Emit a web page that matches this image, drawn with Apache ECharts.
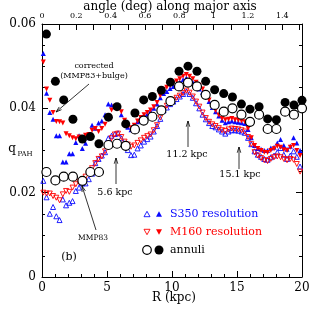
<!DOCTYPE html>
<html><head><meta charset="utf-8">
<script src="https://cdn.jsdelivr.net/npm/echarts@6/dist/echarts.min.js"></script>
<style>html,body{margin:0;padding:0;background:#fff}#c{width:314px;height:315px}</style>
</head><body><div id="c"></div>
<script>
// Radius grid (kpc) for the resolution-matched triangle series
const R_TRI = [0.1,0.35,0.6,0.85,1.1,1.35,1.6,1.85,2.1,2.35,
2.6,2.85,3.1,3.35,3.6,3.85,4.1,4.35,4.6,4.85,
5.1,5.35,5.6,5.85,6.1,6.35,6.6,6.85,7.1,7.35,
7.6,7.85,8.1,8.35,8.6,8.85,9.1,9.35,9.6,9.85,
10.1,10.35,10.6,10.85,11.1,11.35,11.6,11.85,12.1,12.35,
12.6,12.85,13.1,13.35,13.6,13.85,14.1,14.35,14.6,14.85,
15.1,15.35,15.6,15.85,16.1,16.35,16.6,16.85,17.1,17.35,
17.6,17.85,18.1,18.35,18.6,18.85,19.1,19.35,19.6,19.85];
// S350 resolution, corrected (MMP83+bulge) - filled blue triangles
const S350_CORR = [.0530,.0436,.0390,.0374,.0335,.0335,.0273,.0273,.0292,.0292,
.0319,.0335,.0305,.0317,.0330,.0360,.0353,.0365,.0370,.0385,
.0410,.0408,.0404,.0404,.0385,.0370,.0355,.0349,.0355,.0368,
.0378,.0384,.0386,.0393,.0400,.0410,.0425,.0435,.0440,.0447,
.0452,.0458,.0462,.0468,.0472,.0468,.0462,.0454,.0446,.0438,
.0428,.0416,.0402,.0392,.0382,.0372,.0366,.0368,.0370,.0368,
.0367,.0366,.0364,.0350,.0330,.0312,.0305,.0303,.0300,.0300,
.0306,.0308,.0318,.0326,.0312,.0303,.0310,.0330,.0318,.0300];
// M160 resolution, corrected - filled red down-triangles
const M160_CORR = [.0510,.0446,.0419,.0390,.0369,.0368,.0365,.0340,.0335,.0330,
.0328,.0332,.0330,.0336,.0338,.0348,.0352,.0345,.0352,.0362,
.0375,.0396,.0404,.0402,.0392,.0372,.0358,.0354,.0360,.0370,
.0378,.0385,.0390,.0396,.0404,.0414,.0430,.0445,.0450,.0455,
.0460,.0465,.0470,.0476,.0480,.0476,.0470,.0462,.0455,.0446,
.0434,.0420,.0405,.0395,.0384,.0376,.0373,.0374,.0376,.0373,
.0372,.0370,.0368,.0352,.0330,.0312,.0305,.0300,.0296,.0295,
.0300,.0304,.0310,.0308,.0302,.0300,.0308,.0312,.0300,.0288];
// S350 resolution, MMP83 - open blue triangles
const S350_MMP = [.0228,.0189,.0150,.0166,.0144,.0135,.0184,.0170,.0176,.0180,
.0204,.0212,.0222,.0222,.0232,.0245,.0270,.0280,.0288,.0296,
.0329,.0335,.0339,.0341,.0329,.0315,.0301,.0289,.0290,.0305,
.0312,.0321,.0327,.0333,.0345,.0358,.0375,.0395,.0402,.0410,
.0416,.0422,.0428,.0434,.0440,.0434,.0425,.0412,.0400,.0385,
.0374,.0365,.0358,.0355,.0350,.0345,.0340,.0345,.0348,.0348,
.0347,.0345,.0342,.0330,.0315,.0298,.0290,.0285,.0280,.0278,
.0284,.0288,.0296,.0306,.0290,.0280,.0288,.0298,.0285,.0262];
// M160 resolution, MMP83 - open red down-triangles
const M160_MMP = [.0200,.0198,.0198,.0192,.0188,.0182,.0196,.0204,.0202,.0212,
.0220,.0226,.0230,.0238,.0246,.0258,.0270,.0280,.0286,.0298,
.0315,.0329,.0338,.0340,.0332,.0321,.0314,.0309,.0312,.0318,
.0324,.0330,.0334,.0338,.0348,.0360,.0378,.0398,.0406,.0414,
.0420,.0425,.0430,.0436,.0442,.0437,.0428,.0416,.0404,.0390,
.0377,.0368,.0362,.0358,.0353,.0348,.0346,.0350,.0352,.0351,
.0350,.0348,.0345,.0332,.0315,.0296,.0288,.0282,.0277,.0275,
.0280,.0284,.0286,.0284,.0280,.0277,.0280,.0278,.0268,.0250];
// Annuli
const ANN_R = [0.34,1.03,1.67,2.38,3.11,3.72,4.38,5.11,5.77,6.44,
7.15,7.82,8.49,9.18,9.88,10.54,11.23,11.92,12.59,13.28,
13.98,14.65,15.34,16.0,16.7,17.36,18.03,18.7,19.38,20.0];
const ANN_CORR = [.0576,.0464,.0420,.0374,.0327,.0333,.0316,.0379,.0404,.0363,
.0389,.0420,.0428,.0443,.0462,.0488,.0500,.0488,.0464,.0444,
.0435,.0427,.0410,.0398,.0404,.0375,.0373,.0414,.0408,.0419];
const ANN_MMP = [.0249,.0229,.0238,.0238,.0228,.0249,.0249,.0313,.0316,.0311,
.0350,.0371,.0380,.0395,.0417,.0452,.0461,.0452,.0432,.0408,
.0392,.0400,.0385,.0368,.0385,.0351,.0351,.0392,.0385,.0400];
// Axis definitions
const X_MIN = 0, X_MAX = 20, X_STEP = 5;
const Y_MIN = 0, Y_MAX = 0.06, Y_STEP = 0.02;
const ANG_MAX = 1.515, ANG_STEP = 0.1;

const BLUE = '#0a0aff', RED = '#ff0000', BLACK = '#000';
const FONT = 'DejaVu Serif';
const pair = (xs, ys) => xs.map((x, i) => [x, ys[i]]);

const chart = echarts.init(document.getElementById('c'), null, {renderer: 'canvas'});
const tickCommon = {inside: true, length: 6, lineStyle: {color: BLACK, width: 1}};
const minorCommon = {show: true, length: 3, lineStyle: {color: BLACK, width: 1}};
const lineCommon = {show: true, onZero: false, lineStyle: {color: BLACK, width: 1}};

function triStyle(color, open) {
  return open ? {color: 'rgba(0,0,0,0)', borderColor: color, borderWidth: 0.9, opacity: 1}
              : {color: color, opacity: 1};
}

const option = {
  animation: false,
  backgroundColor: '#fff',
  grid: {left: 42, right: 12, top: 24, bottom: 38},
  xAxis: [
    {type: 'value', min: X_MIN, max: X_MAX, interval: X_STEP, position: 'bottom',
     axisLine: lineCommon, axisTick: tickCommon, minorTick: Object.assign({splitNumber: 5}, minorCommon),
     splitLine: {show: false},
     axisLabel: {color: BLACK, fontFamily: FONT, fontSize: 12, margin: 5}},
    {type: 'value', min: 0, max: ANG_MAX, interval: ANG_STEP, position: 'top',
     axisLine: lineCommon, axisTick: tickCommon, splitLine: {show: false},
     axisLabel: {color: BLACK, fontFamily: FONT, fontSize: 8, margin: 4, showMaxLabel: false,
       formatter: v => { const t = Math.round(v * 10); return t % 2 ? '' : String(t / 10); }}}
  ],
  yAxis: [
    {type: 'value', min: Y_MIN, max: Y_MAX, interval: Y_STEP, position: 'left',
     axisLine: lineCommon, axisTick: tickCommon, minorTick: Object.assign({splitNumber: 4}, minorCommon),
     splitLine: {show: false},
     axisLabel: {color: BLACK, fontFamily: FONT, fontSize: 12, margin: 6}},
    {type: 'value', min: Y_MIN, max: Y_MAX, interval: Y_STEP, position: 'right',
     axisLine: lineCommon, axisTick: tickCommon, minorTick: Object.assign({splitNumber: 4}, minorCommon),
     splitLine: {show: false}, axisLabel: {show: false}}
  ],
  series: [
    {name: 'S350 MMP83', type: 'scatter', symbol: 'triangle', symbolSize: 5, clip: false,
     itemStyle: triStyle(BLUE, true), data: pair(R_TRI, S350_MMP)},
    {name: 'M160 MMP83', type: 'scatter', symbol: 'triangle', symbolRotate: 180, symbolSize: 5, clip: false,
     itemStyle: triStyle(RED, true), data: pair(R_TRI, M160_MMP)},
    {name: 'S350 corrected', type: 'scatter', symbol: 'triangle', symbolSize: 5, clip: false,
     itemStyle: triStyle(BLUE, false), data: pair(R_TRI, S350_CORR)},
    {name: 'M160 corrected', type: 'scatter', symbol: 'triangle', symbolRotate: 180, symbolSize: 5, clip: false,
     itemStyle: triStyle(RED, false), data: pair(R_TRI, M160_CORR)},
    {name: 'annuli MMP83', type: 'scatter', symbol: 'circle', symbolSize: 9, clip: false,
     itemStyle: {color: '#fff', borderColor: BLACK, borderWidth: 1.2, opacity: 1}, data: pair(ANN_R, ANN_MMP)},
    {name: 'annuli corrected', type: 'scatter', symbol: 'circle', symbolSize: 9, clip: false,
     itemStyle: {color: BLACK, opacity: 1}, data: pair(ANN_R, ANN_CORR)}
  ],
  graphic: []
};

// Annotations and legend (decorative, pixel placed)
const g = [];
function txt(x, y, s, size, color, align) {
  g.push({type: 'text', x: x, y: y, style: {text: s, fill: color || BLACK, font: size + 'px "' + FONT + '"',
    textAlign: align || 'center', textVerticalAlign: 'middle'}, z: 10});
}
function arrow(x1, y1, x2, y2) {
  g.push({type: 'line', shape: {x1: x1, y1: y1, x2: x2, y2: y2}, style: {stroke: BLACK, lineWidth: 0.8}, z: 10});
  const a = Math.atan2(y2 - y1, x2 - x1), L = 6, w = 0.3;
  g.push({type: 'polyline', shape: {points: [
    [x2 - L * Math.cos(a - w), y2 - L * Math.sin(a - w)], [x2, y2],
    [x2 - L * Math.cos(a + w), y2 - L * Math.sin(a + w)]]}, style: {stroke: BLACK, lineWidth: 0.8, fill: null}, z: 10});
}
txt(170, 7, 'angle (deg) along major axis', 12);
txt(174, 298, 'R (kpc)', 12);
txt(12, 149, 'q', 12, BLACK, 'center');
txt(25, 154, 'PAH', 7, BLACK, 'center');
txt(94, 66, 'corrected', 8);
txt(94, 76, '(MMP83+bulge)', 8);
arrow(89, 84, 56, 112);
txt(93, 238, 'MMP83', 7.5);
arrow(96, 230, 82, 186);
txt(115, 193, '5.6 kpc', 9.5);
arrow(116, 184, 116, 158);
txt(187, 155, '11.2 kpc', 9.5);
arrow(188, 147, 188, 121);
txt(240, 175, '15.1 kpc', 9.5);
arrow(239, 169, 239, 147);
txt(69, 257, '(b)', 11);
// legend
function tri(cx, cy, s, down, color, open) {
  const h = s * 0.9;
  const pts = down ? [[cx - s / 2, cy - h / 2], [cx + s / 2, cy - h / 2], [cx, cy + h / 2]]
                   : [[cx - s / 2, cy + h / 2], [cx + s / 2, cy + h / 2], [cx, cy - h / 2]];
  g.push({type: 'polygon', shape: {points: pts}, style: open ? {fill: null, stroke: color, lineWidth: 0.9} : {fill: color}, z: 10});
}
tri(147, 214, 6, false, BLUE, true); tri(159, 214, 6, false, BLUE, false);
txt(170, 214, 'S350 resolution', 11, BLUE, 'left');
tri(147, 232, 6, true, RED, true); tri(159, 232, 6, true, RED, false);
txt(170, 232, 'M160 resolution', 11, RED, 'left');
g.push({type: 'circle', shape: {cx: 147, cy: 250, r: 4.3}, style: {fill: '#fff', stroke: BLACK, lineWidth: 1.2}, z: 10});
g.push({type: 'circle', shape: {cx: 159, cy: 250, r: 4.5}, style: {fill: BLACK}, z: 10});
txt(170, 250, 'annuli', 11, BLACK, 'left');
option.graphic = g;

chart.setOption(option);
</script></body></html>
